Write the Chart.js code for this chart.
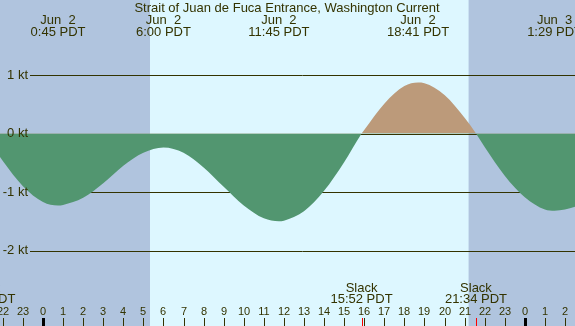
<!DOCTYPE html>
<html>
<head>
<meta charset="utf-8">
<script src="https://cdn.jsdelivr.net/npm/chart.js@4"></script>
<style>
  html, body { margin: 0; padding: 0; background: #ddf7ff; }
  #wrap { width: 575px; height: 326px; }
</style>
</head>
<body>
<div id="wrap"><canvas id="currentChart" width="575" height="326"></canvas></div>
<script>
// hours since Jun 2 00:00 PDT, current speed in knots
const hours = [-3, -2, -1, 0, 0.75, 1, 2, 3, 4, 5, 6, 7, 8, 9, 10, 11, 11.75, 12, 13, 14, 15, 15.87, 16, 17, 18, 18.68, 19, 20, 21, 21.57, 22, 23, 24, 25, 25.48, 26, 27];
const knots = [0.03, -0.47, -0.90, -1.17, -1.23, -1.22, -1.10, -0.85, -0.55, -0.33, -0.24, -0.33, -0.58, -0.91, -1.23, -1.45, -1.50, -1.49, -1.33, -0.98, -0.49, 0, 0.06, 0.51, 0.81, 0.87, 0.86, 0.66, 0.27, 0, -0.23, -0.72, -1.09, -1.30, -1.32, -1.30, -1.20];

// max current events along the top
const eventTimes = [0.75, 6.0, 11.75, 18.683, 25.483];
const eventDates = ["Jun  2", "Jun  2", "Jun  2", "Jun  2", "Jun  3"];
const eventLabels = ["0:45 PDT", "6:00 PDT", "11:45 PDT", "18:41 PDT", "1:29 PDT"];

// slack water along the bottom
const slackTimes = [-2.92, 15.867, 21.567];
const slackLabels = ["21:05 PDT", "15:52 PDT", "21:34 PDT"];

// hour axis
const hourTicks = [-2, -1, 0, 1, 2, 3, 4, 5, 6, 7, 8, 9, 10, 11, 12, 13, 14, 15, 16, 17, 18, 19, 20, 21, 22, 23, 24, 25, 26];
const hourLabels = ["22", "23", "0", "1", "2", "3", "4", "5", "6", "7", "8", "9", "10", "11", "12", "13", "14", "15", "16", "17", "18", "19", "20", "21", "22", "23", "0", "1", "2"];

// speed levels
const levels = [1, 0, -1, -2];
const levelLabels = ["1 kt", "0 kt", "-1 kt", "-2 kt"];

const sunrise = 5.33;
const sunset = 21.2;

const titleText = "Strait of Juan de Fuca Entrance, Washington Current";
const textColor = "#333300";
const fontName = "'Liberation Sans', Arial, sans-serif";

const tidePlugin = {
  id: "tide",
  beforeDraw(chart) {
    const c = chart.ctx;
    const xs = chart.scales.x;
    const area = chart.chartArea;
    c.save();
    c.fillStyle = "#ddf7ff";
    c.fillRect(0, 0, chart.width, chart.height);
    c.fillStyle = "#b0c4de";
    const xr = xs.getPixelForValue(sunrise);
    const xsun = xs.getPixelForValue(sunset);
    c.fillRect(area.left, 0, xr - area.left, chart.height);
    c.fillRect(xsun, 0, area.right - xsun, chart.height);
    c.restore();
  },
  beforeDatasetsDraw(chart) {
    const c = chart.ctx;
    const ys = chart.scales.y;
    c.save();
    c.strokeStyle = textColor;
    c.lineWidth = 1;
    levels.forEach(function (v) {
      const y = Math.round(ys.getPixelForValue(v)) + 0.5;
      c.beginPath();
      c.moveTo(30, y);
      c.lineTo(chart.width, y);
      c.stroke();
    });
    c.restore();
  },
  afterDraw(chart) {
    const c = chart.ctx;
    const xs = chart.scales.x;
    const ys = chart.scales.y;
    const h = chart.height;
    c.save();
    c.fillStyle = textColor;
    c.textBaseline = "middle";

    // title + top events
    c.font = "13px " + fontName;
    c.textAlign = "center";
    c.fillText(titleText, 287, 8);
    eventTimes.forEach(function (t, i) {
      const x = xs.getPixelForValue(t);
      c.fillText(eventDates[i], x, 20);
      c.fillText(eventLabels[i], x, 32);
    });

    // level labels
    c.textAlign = "right";
    levels.forEach(function (v, i) {
      c.fillText(levelLabels[i], 28, ys.getPixelForValue(v));
    });

    // slack labels
    c.textAlign = "center";
    slackTimes.forEach(function (t, i) {
      const x = xs.getPixelForValue(t);
      c.fillText("Slack", x, 288);
      c.fillText(slackLabels[i], x, 299);
    });

    // hour labels and ticks
    c.font = "11px " + fontName;
    hourTicks.forEach(function (t, i) {
      const x = Math.round(xs.getPixelForValue(t));
      c.fillStyle = textColor;
      c.fillText(hourLabels[i], x, 312);
      if (hourLabels[i] === "0") {
        c.fillStyle = "#000000";
        c.fillRect(x - 1, 318, 3, h - 318);
      } else {
        c.fillStyle = textColor;
        c.fillRect(x, 318, 1, h - 318);
      }
    });
    c.fillStyle = "#ff0000";
    slackTimes.forEach(function (t) {
      const x = Math.round(xs.getPixelForValue(t));
      c.fillRect(x, 318, 1, h - 318);
    });
    c.restore();
  }
};

const ctx = document.getElementById("currentChart");

new Chart(ctx, {
  type: "line",
  data: {
    datasets: [
      {
        label: "Current",
        data: hours.map(function (t, i) { return { x: t, y: knots[i] }; }),
        borderWidth: 0,
        borderColor: "rgba(0,0,0,0)",
        pointRadius: 0,
        cubicInterpolationMode: "monotone",
        fill: {
          target: "origin",
          above: "#bc9a7a",
          below: "#529670",
        },
      },
    ],
  },
  options: {
    responsive: false,
    animation: false,
    layout: { padding: 0 },
    plugins: {
      legend: { display: false },
      tooltip: { enabled: false },
      title: { display: false },
    },
    scales: {
      x: { type: "linear", min: -2.142, max: 26.5, display: false },
      y: { type: "linear", min: -3.29, max: 2.282, display: false },
    },
  },
  plugins: [tidePlugin],
});
</script>
</body>
</html>
